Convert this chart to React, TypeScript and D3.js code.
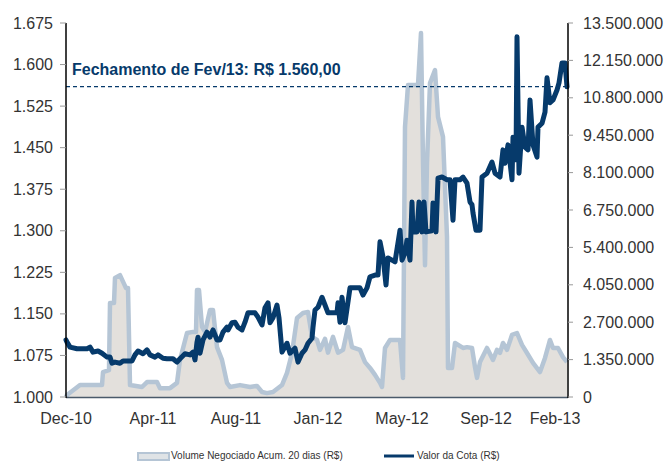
import React from "react";
import * as d3 from "d3";

// x = observation index (trading days from Dec-10)
const volumeIdx = [0, 1, 14, 34, 36, 37, 43, 44, 48, 49, 54, 60, 62, 64, 76, 81, 91, 94, 104, 111, 114, 121, 127, 130, 131, 133, 136, 139, 144, 147, 151, 156, 161, 164, 174, 184, 191, 196, 201, 207, 216, 221, 226, 231, 237, 242, 246, 251, 254, 259, 262, 267, 272, 277, 282, 286, 294, 299, 304, 309, 314, 316, 319, 324, 334, 337, 339, 342, 352, 355, 357, 359, 361, 364, 369, 372, 377, 381, 382, 386, 389, 397, 401, 406, 409, 411, 414, 421, 427, 431, 434, 437, 441, 446, 451, 456, 461, 467, 474, 479, 484, 487, 492, 497, 501];
// volume, R$ millions
const volumeVals = [0, 0.07, 0.43, 0.43, 0.43, 0.9, 0.97, 3.39, 3.39, 4.3, 4.4, 3.93, 3.93, 0.43, 0.36, 0.54, 0.54, 0.32, 0.32, 0.51, 1.34, 2.31, 2.35, 2.35, 3.86, 3.86, 2.53, 2.35, 3.14, 3.14, 1.8, 1.34, 0.51, 0.36, 0.43, 0.36, 0.4, 0.18, 0.14, 0.18, 0.43, 0.87, 1.59, 2.85, 3.03, 3.07, 2.17, 2.06, 1.7, 2.1, 1.6, 2.17, 1.6, 1.7, 2.53, 1.8, 1.7, 1.26, 1.05, 0.8, 0.51, 0.36, 1.77, 2.06, 2.06, 0.69, 9.75, 11.26, 11.26, 13.14, 8.5, 4.76, 8.45, 11.33, 11.8, 10.11, 9.39, 5.78, 1.05, 1.05, 1.95, 1.77, 1.8, 1.77, 1.08, 0.69, 1.26, 1.77, 1.34, 1.7, 1.59, 1.95, 1.7, 2.24, 2.31, 1.88, 1.59, 1.23, 0.9, 1.41, 2.06, 1.77, 1.77, 1.44, 1.26];

const priceIdx = [0, 1, 4, 11, 21, 24, 27, 32, 36, 41, 44, 46, 49, 54, 57, 66, 69, 72, 77, 81, 84, 89, 92, 97, 101, 107, 111, 114, 119, 124, 127, 129, 131, 132, 134, 137, 141, 144, 147, 151, 154, 157, 161, 162, 166, 169, 172, 176, 179, 182, 189, 192, 196, 199, 202, 204, 207, 211, 213, 216, 221, 224, 229, 232, 236, 239, 242, 246, 247, 249, 252, 256, 259, 262, 271, 272, 274, 276, 279, 284, 291, 294, 297, 301, 304, 309, 312, 314, 317, 320, 322, 326, 329, 334, 336, 339, 341, 344, 346, 347, 351, 353, 356, 358, 360, 366, 367, 370, 372, 376, 381, 384, 387, 389, 394, 397, 401, 404, 406, 407, 410, 414, 416, 421, 426, 429, 434, 437, 439, 442, 446, 447, 450, 451, 453, 456, 459, 462, 464, 467, 471, 472, 476, 479, 481, 484, 487, 491, 493, 496, 499, 501];
// valor da cota, R$
const priceVals = [1.103, 1.099, 1.09, 1.087, 1.087, 1.09, 1.081, 1.083, 1.079, 1.072, 1.072, 1.061, 1.063, 1.061, 1.065, 1.065, 1.076, 1.083, 1.078, 1.085, 1.076, 1.072, 1.076, 1.07, 1.069, 1.069, 1.063, 1.069, 1.078, 1.076, 1.081, 1.067, 1.099, 1.108, 1.079, 1.103, 1.117, 1.108, 1.121, 1.103, 1.103, 1.117, 1.126, 1.121, 1.134, 1.135, 1.126, 1.121, 1.135, 1.152, 1.152, 1.144, 1.13, 1.161, 1.17, 1.134, 1.143, 1.166, 1.143, 1.081, 1.097, 1.079, 1.088, 1.063, 1.079, 1.085, 1.097, 1.106, 1.126, 1.157, 1.162, 1.18, 1.166, 1.152, 1.152, 1.17, 1.135, 1.18, 1.134, 1.197, 1.197, 1.197, 1.184, 1.197, 1.217, 1.22, 1.22, 1.28, 1.253, 1.202, 1.251, 1.247, 1.244, 1.301, 1.247, 1.26, 1.283, 1.247, 1.352, 1.298, 1.298, 1.352, 1.298, 1.352, 1.298, 1.3, 1.35, 1.298, 1.395, 1.397, 1.392, 1.392, 1.319, 1.392, 1.392, 1.397, 1.386, 1.352, 1.347, 1.332, 1.301, 1.301, 1.397, 1.404, 1.424, 1.404, 1.397, 1.446, 1.422, 1.455, 1.392, 1.469, 1.428, 1.65, 1.404, 1.487, 1.451, 1.446, 1.536, 1.455, 1.433, 1.487, 1.494, 1.514, 1.576, 1.531, 1.536, 1.554, 1.567, 1.603, 1.603, 1.56];

const leftTicks = [1.0, 1.075, 1.15, 1.225, 1.3, 1.375, 1.45, 1.525, 1.6, 1.675];
const rightTicks = [0, 1.35, 2.7, 4.05, 5.4, 6.75, 8.1, 9.45, 10.8, 12.15, 13.5];
const xLabels = ["Dec-10", "Apr-11", "Aug-11", "Jan-12", "May-12", "Sep-12", "Feb-13"];
const xLabelIdx = [0, 87, 170, 252, 336, 420, 489];
const closingValue = 1.56;

const NAVY = "#063a6b";
const VOL_STROKE = "#b5c5d5";
const VOL_FILL = "#e3e0dc";
const FONT = "'Liberation Sans', Arial, Helvetica, sans-serif";

const fmtDots = (n: number) => {
  const s = Math.round(n).toString();
  return s.replace(/\B(?=(\d{3})+(?!\d))/g, ".");
};

export default function App() {
  const width = 667;
  const height = 461;
  const left = 66;
  const right = 568;
  const top = 23;
  const bottom = 397;

  const x = d3.scaleLinear().domain([0, 502]).range([left, right]);
  const yL = d3.scaleLinear().domain([1.0, 1.675]).range([bottom, top]);
  const yR = d3.scaleLinear().domain([0, 13.5]).range([bottom, top]);

  const volData = volumeIdx.map((t, i) => [t, volumeVals[i]] as [number, number]);
  const priceData = priceIdx.map((t, i) => [t, priceVals[i]] as [number, number]);

  const area = d3
    .area<[number, number]>()
    .x((d) => x(d[0]))
    .y0(yR(0))
    .y1((d) => yR(d[1]));
  const volLine = d3
    .line<[number, number]>()
    .x((d) => x(d[0]))
    .y((d) => yR(d[1]));
  const priceLine = d3
    .line<[number, number]>()
    .x((d) => x(d[0]))
    .y((d) => yL(d[1]));

  return (
    <svg
      width={width}
      height={height}
      style={{ position: "absolute", left: 0, top: 0, background: "#fff" }}
      fontFamily={FONT}
    >
      {/* volume area */}
      <path d={area(volData) || ""} fill={VOL_FILL} />
      <path
        d={volLine(volData) || ""}
        fill="none"
        stroke={VOL_STROKE}
        strokeWidth={4.5}
        strokeLinejoin="round"
      />

      {/* closing reference line */}
      <line
        x1={left}
        x2={right}
        y1={yL(closingValue)}
        y2={yL(closingValue)}
        stroke={NAVY}
        strokeWidth={1.2}
        strokeDasharray="4,3"
      />

      {/* price line */}
      <path
        d={priceLine(priceData) || ""}
        fill="none"
        stroke={NAVY}
        strokeWidth={5}
        strokeLinejoin="round"
        strokeLinecap="round"
      />

      {/* axes */}
      <line x1={left} x2={right} y1={bottom + 0.5} y2={bottom + 0.5} stroke="#4a5a6a" strokeWidth={1.5} />
      <line x1={left} x2={left} y1={top} y2={bottom + 1} stroke="#000" strokeWidth={1.5} />
      <line x1={right} x2={right} y1={top} y2={bottom + 1} stroke="#000" strokeWidth={1.5} />

      {leftTicks.map((v) => (
        <g key={"l" + v}>
          <line x1={left - 6} x2={left} y1={yL(v)} y2={yL(v)} stroke="#999" />
          <text x={left - 13} y={yL(v) + 5.5} textAnchor="end" fontSize={16} fill="#333">
            {v.toFixed(3)}
          </text>
        </g>
      ))}
      {rightTicks.map((v) => (
        <g key={"r" + v}>
          <line x1={right} x2={right + 5} y1={yR(v)} y2={yR(v)} stroke="#999" />
          <text x={right + 15} y={yR(v) + 5.5} textAnchor="start" fontSize={16} fill="#333">
            {fmtDots(v * 1e6)}
          </text>
        </g>
      ))}
      {xLabels.map((lab, i) => (
        <text key={lab} x={x(xLabelIdx[i])} y={424} textAnchor="middle" fontSize={16} fill="#333">
          {lab}
        </text>
      ))}

      {/* annotation */}
      <text x={72} y={75} fontSize={16} fontWeight="bold" fill={NAVY}>
        Fechamento de Fev/13: R$ 1.560,00
      </text>

      {/* legend */}
      <rect x={138} y={453} width={31} height={7} fill="#dfe3e6" stroke={VOL_STROKE} strokeWidth={2} />
      <text x={171} y={459} fontSize={10} fill="#333">
        Volume Negociado Acum. 20 dias (R$)
      </text>
      <line x1={384} x2={414} y1={456} y2={456} stroke={NAVY} strokeWidth={3} />
      <text x={417} y={459} fontSize={10} fill="#333">
        Valor da Cota (R$)
      </text>
    </svg>
  );
}
